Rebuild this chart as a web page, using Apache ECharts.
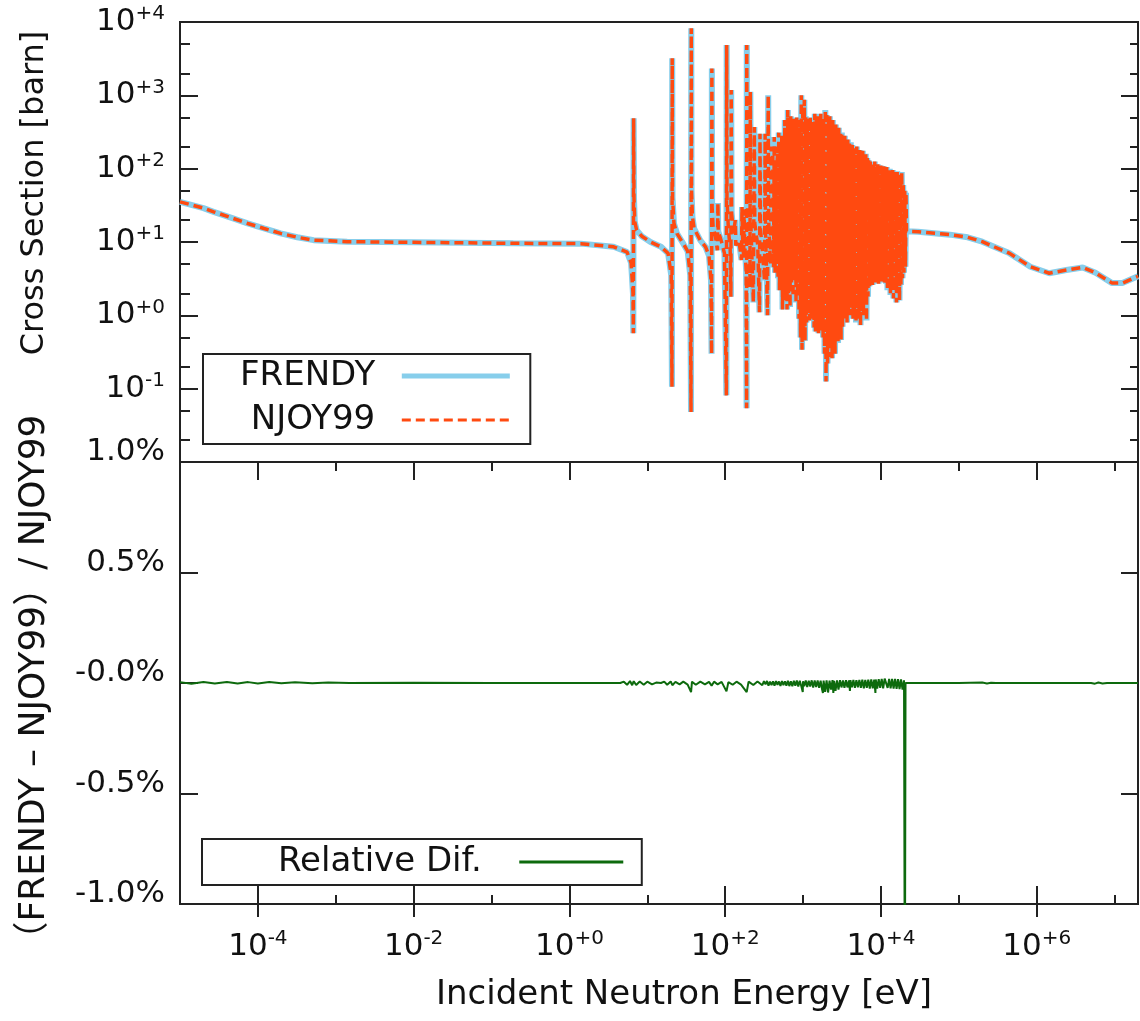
<!DOCTYPE html>
<html><head><meta charset="utf-8">
<script src="https://cdn.jsdelivr.net/npm/echarts@6/dist/echarts.min.js"></script>
<style>html,body{margin:0;padding:0;background:#fff}#c{width:1140px;height:1021px}</style>
</head><body><div id="c"></div>
<script>
// ---- data (energy in eV, cross section in barn) ----
const thermalRegion = [[1e-5,35.3],[2e-5,29.0],[2.7e-5,25.8],[4.5e-5,21.5],[7.4e-5,17.9],[1.2e-4,15.3],[1.96e-4,13.1],[3.2e-4,11.6],[5.2e-4,10.6],[1.4e-3,10.1],[1e-2,9.9],[0.19,9.6],[1.4,9.5],[3.7,8.6],[5.5,7.3],[6.2,5.2]];
const resolvedRegion = [[6.55,2.0],[6.62,0.57],[6.68,486],[6.75,40],[6.9,19],[7.3,14.5],[8.5,12],[11,10],[15,8.6],[18.5,7.0],[20.3,3.5],[20.75,0.106],[20.9,3200],[21.1,40],[22,18],[24,13.1],[29,9.5],[33,7.5],[35.6,3.5],[36.45,0.048],[36.7,8200],[37.0,50],[38,22],[40,15.2],[48,10.5],[56,8.6],[62,6.5],[65.8,3.0],[66.9,0.30],[67.5,2330],[68,30],[70,16],[75,12],[79.5,7.7],[80.7,34],[81.5,14],[90,10],[98,7],[103.7,0.081],[104.6,4850],[105.5,40],[110,15],[116,8],[118.5,1.79],[119.5,1180],[121,25],[128,13],[135,20],[137,9],[150,10.6],[162,5.7],[164.5,30],[167,12],[173,6],[175,28],[178,10],[186,4],[188.5,0.054],[189.5,4850],[191,40],[200,15],[208,2.4],[210.5,1120],[213,20],[230,1.5],[237,370],[240,18],[262,9],[276,1.1],[280,300],[284,15],[300,8],[320,3],[326,300],[330,14],[350,1.0],[357,1000],[362,20],[380,5],[390,200]];
const denseRegion = [[409,150],[418,4.5],[427,270],[437,3.8],[447,120],[457,5],[467,200],[477,3.2],[488,310],[499,2.2],[510,180],[522,3.8],[533,280],[545,1.2],[558,260],[570,2.5],[583,460],[596,1.6],[609,350],[623,1.2],[637,630],[651,2.0],[666,420],[681,1.3],[696,520],[712,2.8],[728,310],[744,1.8],[761,480],[778,3.0],[795,400],[813,1.5],[831,500],[850,2.2],[869,330],[888,0.9],[908,460],[929,0.5],[950,1000],[971,0.34],[993,700],[1015,0.6],[1038,870],[1061,0.45],[1085,520],[1109,0.8],[1134,480],[1160,1.1],[1186,420],[1212,0.85],[1239,500],[1267,1.0],[1296,440],[1325,0.9],[1354,380],[1385,0.68],[1416,560],[1448,0.6],[1480,460],[1513,0.75],[1547,520],[1582,0.57],[1617,410],[1654,0.9],[1691,560],[1729,0.62],[1767,400],[1807,0.5],[1847,480],[1889,0.3],[1931,630],[1974,0.125],[2019,540],[2064,0.22],[2110,460],[2158,0.27],[2206,520],[2256,0.4],[2306,430],[2358,0.26],[2411,460],[2465,0.35],[2520,380],[2576,0.3],[2634,400],[2693,0.5],[2753,340],[2815,0.42],[2878,360],[2942,0.55],[3008,300],[3076,0.46],[3145,310],[3215,0.7],[3287,260],[3361,0.9],[3436,280],[3513,1.3],[3592,240],[3672,0.8],[3754,250],[3838,1.2],[3924,220],[4012,1.0],[4102,230],[4194,1.3],[4288,210],[4384,0.9],[4482,200],[4582,1.1],[4685,190],[4790,0.8],[4897,200],[5007,1.0],[5119,170],[5233,0.9],[5350,180],[5470,0.73],[5593,160],[5718,1.2],[5846,175],[5977,1.0],[6111,150],[6248,1.4],[6387,160],[6530,0.85],[6677,140],[6826,1.8],[6979,130],[7135,2.5],[7295,125],[7458,3.0],[7625,120],[7796,2.6],[7970,110],[8149,3.3],[8331,125],[8518,2.8],[8709,105],[8904,3.0],[9103,115],[9307,2.7],[9515,100],[9728,3.2],[9946,110],[10169,2.9],[10397,100],[10630,3.3],[10868,108],[11111,2.8],[11360,95],[11614,2.7],[11874,105],[12140,2.2],[12412,92],[12690,2.6],[12974,100],[13265,1.9],[13562,88],[13866,2.4],[14176,96],[14494,1.7],[14818,90],[15150,2.2],[15489,87],[15836,1.5],[16191,92],[16553,2.0],[16924,85],[17303,1.6],[17691,80],[18087,2.6],[18492,90],[18906,3.2],[19330,60],[19763,3.8],[20205,50],[20658,4.6],[21000,47]];
const fastRegion = [[21300,14.0],[30000,13.8],[77000,12.6],[130000,11.6],[200000,10.1],[450000,7.0],[830000,4.6],[1.45e6,3.75],[2.4e6,4.15],[3.9e6,4.5],[5.7e6,3.8],[9.3e6,2.75],[1.26e7,2.75],[2e7,3.4]];
// relative difference (FRENDY-NJOY99)/NJOY99 in percent
const relDiffLow = [[1e-5,0.004],[1.4e-5,-0.003],[2e-5,0.005],[2.8e-5,-0.002],[4e-5,0.005],[5.5e-5,-0.002],[7.5e-5,0.004],[1e-4,-0.002],[1.4e-4,0.004],[2e-4,-0.001],[3e-4,0.003],[5e-4,-0.001],[8e-4,0.002],[1.5e-3,0],[0.01,0.001],[0.1,0],[1,0],[4.5,0],[5,0.006],[5.5,-0.008],[6,0.009],[6.4,-0.01],[6.7,0.008],[7.2,-0.009],[8,0.007],[9,-0.008],[10,0.006],[11.5,-0.006],[13,0.002],[15,0],[16.5,0.006],[18,-0.008],[20,0.007],[21,-0.01],[23,0.005],[26,-0.006],[29,0.006],[33,-0.007],[36.5,-0.041],[37.5,0.006],[42,-0.008],[48,0.006],[55,-0.006],[62,0.005],[67,-0.012],[72,0.006],[80,-0.006],[90,0.005],[104,-0.038],[110,0.004],[125,-0.008],[140,0.006],[160,-0.007],[189,-0.041],[200,0.006],[230,-0.009],[260,0.007]];
const relDiffRes = [[300,-0.01],[315,0.008],[330,-0.006],[345,0.009],[360,-0.012],[377,0.006],[394,-0.01],[412,0.008],[430,-0.012],[450,0.009],[470,-0.008],[491,0.007],[513,-0.013],[536,0.009],[560,-0.01],[585,0.008],[611,-0.012],[639,0.01],[667,-0.014],[697,0.008],[729,-0.015],[762,0.01],[796,-0.012],[832,0.011],[869,-0.016],[908,0.01],[949,-0.014],[992,-0.041],[1000,0.008],[1036,-0.015],[1083,0.011],[1132,-0.018],[1183,0.01],[1236,-0.016],[1292,0.012],[1350,-0.02],[1410,0.011],[1474,-0.018],[1540,0.012],[1610,-0.022],[1682,0.01],[1758,-0.03],[1800,-0.045],[1837,0.011],[1920,-0.04],[2006,0.012],[2096,-0.043],[2191,0.011],[2289,-0.03],[2392,0.013],[2450,-0.045],[2500,0.01],[2613,-0.035],[2730,0.012],[2853,-0.03],[2982,0.013],[3116,-0.02],[3256,0.012],[3403,-0.022],[3556,0.013],[3716,-0.02],[3883,0.012],[4000,-0.036],[4058,0.013],[4241,-0.02],[4432,0.014],[4631,-0.022],[4840,0.013],[5057,-0.02],[5285,0.014],[5523,-0.022],[5771,0.015],[6031,-0.024],[6302,0.014],[6586,-0.022],[6882,0.015],[7192,-0.025],[7516,0.016],[7854,-0.024],[8208,0.015],[8500,-0.045],[8577,0.016],[8963,-0.025],[9366,0.017],[9788,-0.022],[10228,0.018],[10689,-0.024],[11170,0.02],[11700,0.026],[12200,-0.022],[12750,0.018],[13320,-0.024],[13920,0.019],[14550,-0.025],[15200,0.018],[15890,-0.026],[16600,0.017],[17350,-0.028],[18130,0.016],[18950,-0.03],[19800,0.012],[20300,-1.6],[20700,0]];
const relDiffFast = [[25000,0],[1e5,0],[2e5,0.002],[2.3e5,-0.002],[2.6e5,0.001],[3e5,0],[5e6,0],[5.6e6,-0.003],[6.2e6,0.002],[7e6,-0.002],[8e6,0],[2e7,0]];

const xsFrendy = thermalRegion.concat(resolvedRegion, denseRegion, fastRegion);
const xsNjoy99 = xsFrendy.slice(); // indistinguishable from FRENDY at plot resolution
const relDiff = relDiffLow.concat(relDiffRes, relDiffFast);

// ---- axis ticks / labels ----
const xMajorTicks = [1e-4, 1e-2, 1, 1e2, 1e4, 1e6];
const xMajorExp = ['-4', '-2', '+0', '+2', '+4', '+6'];
const xMinorTicks = [1e-3, 1e-1, 1e1, 1e3, 1e5, 1e7];
const yTopMajorTicks = [1e-1, 1, 1e1, 1e2, 1e3, 1e4];
const yTopExp = ['-1', '+0', '+1', '+2', '+3', '+4'];
const yTopMinorTicks = [2e-2, 5e-2, 0.2, 0.5, 2, 5, 20, 50, 200, 500, 2000, 5000];
const yDiffTicks = [-1, -0.5, 0, 0.5, 1];
const yDiffLabels = ['-1.0%', '-0.5%', '-0.0%', '0.5%', '1.0%'];

const FONT = "'DejaVu Sans','Noto Sans CJK JP',sans-serif";
const INK = '#111';
const AX = '#222';
const rich = {
  b: { fontSize: 31, fontFamily: FONT, color: INK, lineHeight: 36 },
  s: { fontSize: 20, fontFamily: FONT, color: INK, verticalAlign: 'top', lineHeight: 22 }
};
function powLabel(ticks, exps) {
  return function (v) {
    const i = ticks.findIndex(t => Math.abs(Math.log10(t) - Math.log10(v)) < 1e-3);
    return i < 0 ? '' : '{b|10}{s|' + exps[i] + '}';
  };
}
const tickLine = { color: AX, width: 2 };
const X_MIN = 1e-5, X_MAX = 2e7;
function xAx(grid, pos, tick, extra) {
  return Object.assign({
    gridIndex: grid, type: 'log', min: X_MIN, max: X_MAX, position: pos,
    axisLine: { show: false, onZero: false },
    axisTick: tick, axisLabel: { show: false }, splitLine: { show: false }
  }, extra || {});
}
function yLog(pos, tick, extra) {
  return Object.assign({
    gridIndex: 0, type: 'log', min: 1e-2, max: 1e4, position: pos,
    axisLine: { show: false, onZero: false }, axisTick: tick,
    axisLabel: { show: false }, splitLine: { show: false }
  }, extra || {});
}
const legendText = { fontSize: 34, fontFamily: FONT, color: INK, lineHeight: 38 };

const chart = echarts.init(document.getElementById('c'), null, { renderer: 'canvas' });
chart.setOption({
  animation: false,
  backgroundColor: '#fff',
  grid: [
    { left: 180, top: 22, width: 958, height: 440, show: true, borderColor: AX, borderWidth: 2, backgroundColor: 'transparent', outerBoundsMode: 'none' },
    { left: 180, top: 462, width: 958, height: 442, show: true, borderColor: AX, borderWidth: 2, backgroundColor: 'transparent', outerBoundsMode: 'none' }
  ],
  xAxis: [
    xAx(0, 'bottom', { show: false }),
    xAx(1, 'bottom', { inside: true, length: 18, customValues: xMajorTicks, lineStyle: tickLine }, {
      axisLabel: { show: true, customValues: xMajorTicks, formatter: powLabel(xMajorTicks, xMajorExp), rich: rich, margin: 25 },
      name: 'Incident Neutron Energy [eV]', nameLocation: 'middle', nameGap: 71,
      nameTextStyle: { fontSize: 34, fontFamily: FONT, color: INK, lineHeight: 40, padding: [0, 0, 0, 50] }
    }),
    xAx(1, 'bottom', { inside: true, length: 9, customValues: xMinorTicks, lineStyle: tickLine }),
    xAx(1, 'bottom', { inside: false, length: 13, customValues: xMajorTicks, lineStyle: tickLine }),
    xAx(1, 'top', { inside: true, length: 18, customValues: xMajorTicks, lineStyle: tickLine }),
    xAx(1, 'top', { inside: true, length: 9, customValues: xMinorTicks, lineStyle: tickLine })
  ],
  yAxis: [
    yLog('left', { inside: true, length: 18, customValues: yTopMajorTicks, lineStyle: tickLine }, {
      axisLabel: { show: true, customValues: yTopMajorTicks, formatter: powLabel(yTopMajorTicks, yTopExp), rich: rich, margin: 15 },
      name: 'Cross Section [barn]', nameLocation: 'middle', nameRotate: 90, nameGap: 125,
      nameTextStyle: { fontSize: 32, fontFamily: FONT, color: INK, lineHeight: 40, padding: [0, 0, 0, 98] }
    }),
    yLog('left', { inside: true, length: 10, customValues: yTopMinorTicks, lineStyle: tickLine }),
    yLog('right', { inside: true, length: 17, customValues: yTopMajorTicks, lineStyle: tickLine }),
    yLog('right', { inside: true, length: 8, customValues: yTopMinorTicks, lineStyle: tickLine }),
    {
      gridIndex: 1, type: 'value', min: -1, max: 1, interval: 0.5, position: 'left',
      axisLine: { show: false, onZero: false },
      axisTick: { inside: true, length: 18, lineStyle: tickLine },
      axisLabel: {
        margin: 15, fontSize: 31, fontFamily: FONT, color: INK, verticalAlign: 'bottom', lineHeight: 20,
        formatter: v => { const i = yDiffTicks.findIndex(t => Math.abs(t - v) < 1e-6); return i < 0 ? '' : yDiffLabels[i]; }
      },
      splitLine: { show: false },
      name: '（FRENDY – NJOY99）/ NJOY99', nameLocation: 'middle', nameRotate: 90, nameGap: 125,
      nameTextStyle: { fontSize: 36, fontFamily: FONT, color: INK, lineHeight: 40, padding: [0, 6, 0, 0] }
    },
    {
      gridIndex: 1, type: 'value', min: -1, max: 1, interval: 0.5, position: 'right',
      axisLine: { show: false, onZero: false },
      axisTick: { inside: true, length: 17, lineStyle: tickLine },
      axisLabel: { show: false }, splitLine: { show: false }
    }
  ],
  legend: [
    {
      left: 203, top: 354, orient: 'vertical', align: 'right', selectedMode: false,
      itemWidth: 108, itemHeight: 14, itemGap: 6,
      padding: [3, 18, 5, 37],
      borderColor: AX, borderWidth: 2, borderRadius: 0, backgroundColor: '#fff',
      itemStyle: { opacity: 0 },
      formatter: name => name + '  ',
      textStyle: legendText,
      data: [
        { name: 'FRENDY', lineStyle: { width: 5 } },
        { name: 'NJOY99', lineStyle: { width: 3 } }
      ]
    },
    {
      left: 202, top: 839, orient: 'vertical', align: 'right', selectedMode: false,
      itemWidth: 104, itemHeight: 14,
      padding: [4, 17, 4, 76],
      borderColor: AX, borderWidth: 2, borderRadius: 0, backgroundColor: '#fff',
      itemStyle: { opacity: 0 },
      formatter: name => name + '   ',
      textStyle: legendText,
      data: [{ name: 'Relative Dif.', lineStyle: { width: 3 } }]
    }
  ],
  series: [
    {
      name: 'FRENDY', type: 'line', xAxisIndex: 0, yAxisIndex: 0, data: xsFrendy,
      symbol: 'none', showSymbol: false, z: 2,
      lineStyle: { color: '#87ceeb', width: 6 }, itemStyle: { color: '#87ceeb' }
    },
    {
      name: 'NJOY99', type: 'line', xAxisIndex: 0, yAxisIndex: 0, data: xsNjoy99,
      symbol: 'none', showSymbol: false, z: 3,
      lineStyle: { color: '#ff4a10', width: 3.5, type: [9, 5] }, itemStyle: { color: '#ff4a10' }
    },
    {
      name: 'Relative Dif.', type: 'line', xAxisIndex: 1, yAxisIndex: 4, data: relDiff,
      symbol: 'none', showSymbol: false, z: 3,
      lineStyle: { color: '#0d6a0d', width: 2 }, itemStyle: { color: '#0d6a0d' }
    }
  ]
});
</script></body></html>
